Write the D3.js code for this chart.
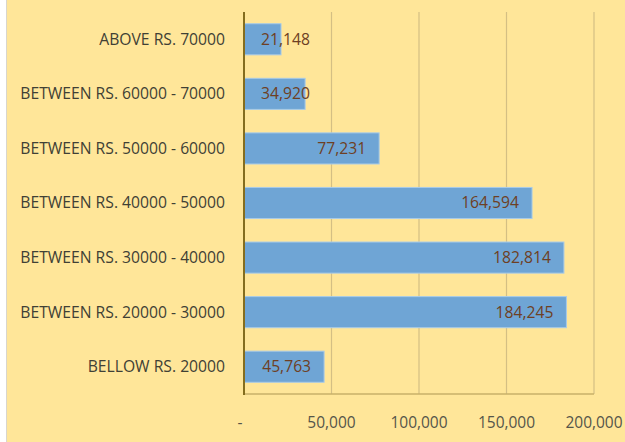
<!DOCTYPE html>
<html><head><meta charset="utf-8">
<script src="https://cdn.jsdelivr.net/npm/d3@7"></script>
<style>
html,body{margin:0;padding:0;background:#fff;}
svg{display:block;}
text{font-family:"Open Sans",sans-serif;}
</style></head>
<body>
<svg id="c" width="625" height="442"></svg>
<script>
const categories = ["ABOVE RS. 70000","BETWEEN RS. 60000 - 70000","BETWEEN RS. 50000 - 60000","BETWEEN RS. 40000 - 50000","BETWEEN RS. 30000 - 40000","BETWEEN RS. 20000 - 30000","BELLOW RS. 20000"];
const values = [21148, 34920, 77231, 164594, 182814, 184245, 45763];
const xTicks = [0, 50000, 100000, 150000, 200000];
const tickLabels = ["-", "50,000", "100,000", "150,000", "200,000"];

const svg = d3.select("#c");
const W = 625, H = 442;
svg.append("rect").attr("width", W).attr("height", H).attr("fill", "#ffffff");
svg.append("rect").attr("x", 6).attr("y", 0).attr("width", W-6).attr("height", H).attr("fill", "#ffe699");
svg.append("line").attr("x1", 6.5).attr("x2", 6.5).attr("y1", 0).attr("y2", H).attr("stroke", "#d9d6cc").attr("stroke-width", 1);

const m = {left: 244, right: 594, top: 12, bottom: 394};
const x = d3.scaleLinear().domain([0, 200000]).range([m.left, m.right]);
const y = d3.scaleBand().domain(categories).range([m.top, m.bottom]).paddingInner(0.43).paddingOuter(0.215);

const g = svg.append("g");
g.selectAll("line.grid").data(xTicks.slice(1)).join("line")
  .attr("x1", d => x(d)).attr("x2", d => x(d))
  .attr("y1", m.top).attr("y2", m.bottom)
  .attr("stroke", "#d4bf84").attr("stroke-width", 1.2);
g.append("line").attr("x1", m.left).attr("x2", m.right).attr("y1", m.bottom).attr("y2", m.bottom)
  .attr("stroke", "#c9b06a").attr("stroke-width", 1.5);

g.selectAll("rect.bar").data(values).join("rect")
  .attr("x", x(0)).attr("y", (d, i) => y(categories[i]))
  .attr("width", d => x(d) - x(0)).attr("height", y.bandwidth())
  .attr("fill", "#6fa5d5").attr("stroke", "#a8cbe8").attr("stroke-width", 1);

const fmt = d3.format(",");
g.selectAll("text.val").data(values).join("text")
  .attr("y", (d, i) => y(categories[i]) + y.bandwidth()/2)
  .attr("dy", "0.35em")
  .attr("font-size", 15.7)
  .attr("fill", "#6e3f24")
  .text(d => fmt(d))
  .each(function(d) {
    const w = this.getComputedTextLength();
    const end = Math.max(x(d) - 13, x(0) + 17 + w);
    d3.select(this).attr("x", end).attr("text-anchor", "end");
  });

g.append("line").attr("x1", m.left).attr("x2", m.left).attr("y1", m.top).attr("y2", m.bottom + 1)
  .attr("stroke", "#846d1e").attr("stroke-width", 2);

g.selectAll("text.cat").data(categories).join("text")
  .attr("x", 225).attr("y", d => y(d) + y.bandwidth()/2)
  .attr("dy", "0.35em").attr("text-anchor", "end")
  .attr("font-size", 15.7).attr("fill", "#404035")
  .text(d => d);

g.selectAll("text.tick").data(xTicks).join("text")
  .attr("x", (d, i) => i === 0 ? x(d) - 4 : x(d))
  .attr("y", 423).attr("dy", "0.35em").attr("text-anchor", "middle")
  .attr("font-size", 15.5).attr("fill", "#55554a")
  .text((d, i) => tickLabels[i]);
</script>
</body></html>
